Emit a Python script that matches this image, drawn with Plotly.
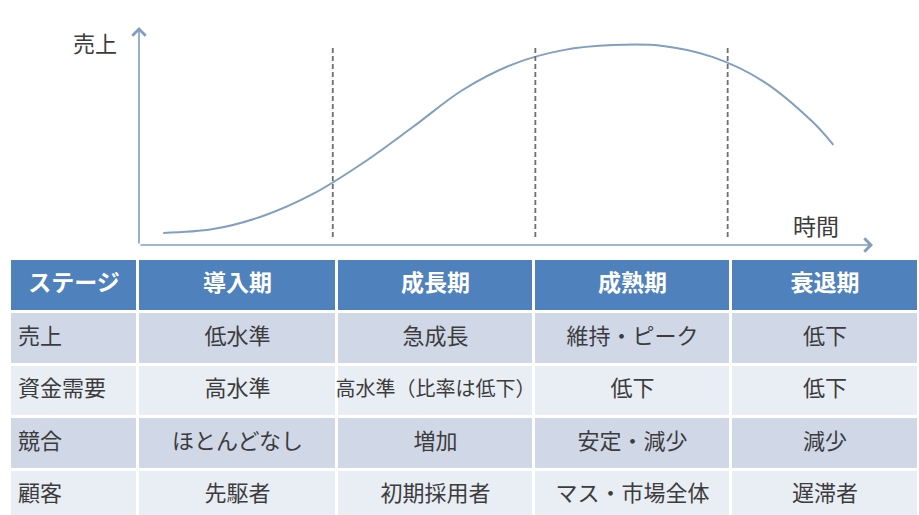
import plotly.graph_objects as go

# ---- product life cycle curve (time vs. sales, both on a 0-100 scale) ----
time_pts = [3.3, 10.1, 16.9, 23.7, 30.5, 37.3, 44.1, 51.0, 57.8, 64.6, 71.4, 78.2, 85.0, 91.8, 94.6]
sales_pts = [5.5, 7.3, 13.3, 23.4, 37.6, 54.1, 71.1, 83.0, 89.4, 91.7, 91.3, 86.2, 75.2, 56.4, 45.9]

# stage boundaries on the time axis and vertical extent of the dashed separators
stage_bounds = [26.4, 54.0, 80.2]
bound_low, bound_high = 3.7, 90.8

# ---- summary table ----
header = ["ステージ", "導入期", "成長期", "成熟期", "衰退期"]
row_labels = ["売上", "資金需要", "競合", "顧客"]
intro = ["低水準", "高水準", "ほとんどなし", "先駆者"]
growth = ["急成長", "高水準（比率は低下）", "増加", "初期採用者"]
maturity = ["維持・ピーク", "低下", "安定・減少", "マス・市場全体"]
decline = ["低下", "低下", "減少", "遅滞者"]

W, H = 919, 515
FONT = "Noto Sans CJK JP"
AXIS_COLOR = "#7f9ec0"
CURVE_COLOR = "#819fc0"
TEXT_COLOR = "#3c3c3c"
HEAD_FILL = "#4f81bd"
ROW_DARK = "#d0d8e8"
ROW_LIGHT = "#e9edf4"
HEAD_SIZE, BODY_SIZE, LONG_SIZE = 23, 22, 20

# table geometry (pixels)
col_widths = [128, 199, 197, 197, 188]
head_h, row_h = 53, 52.5
TABLE_LEFT, TABLE_TOP = 10, 259

fig = go.Figure()

# ---------------- chart ----------------
fig.add_trace(go.Scatter(
    x=time_pts, y=sales_pts, mode="lines",
    line=dict(color=CURVE_COLOR, width=2, shape="spline", smoothing=1.0),
    hoverinfo="skip", showlegend=False,
))

for b in stage_bounds:
    fig.add_shape(type="line", xref="x", yref="y",
                  x0=b, x1=b, y0=bound_low, y1=bound_high,
                  line=dict(color="#6e6e6e", width=1.8, dash="5px,3px"))

# axes drawn as arrows from the origin
fig.add_annotation(x=100, y=0, ax=0, ay=0, xref="x", yref="y", axref="x", ayref="y",
                   text="", showarrow=True, arrowhead=4, arrowsize=1.6,
                   arrowwidth=1.6, arrowcolor=AXIS_COLOR, standoff=0)
fig.add_annotation(x=0, y=100, ax=0, ay=0, xref="x", yref="y", axref="x", ayref="y",
                   text="", showarrow=True, arrowhead=4, arrowsize=1.6,
                   arrowwidth=1.6, arrowcolor=AXIS_COLOR, standoff=0)

fig.add_annotation(x=119 / W, y=(H - 42) / H, xref="paper", yref="paper", text="売上",
                   showarrow=False, xanchor="right", yanchor="middle",
                   font=dict(family=FONT, size=22, color=TEXT_COLOR))
fig.add_annotation(x=92.2, y=9.3, xref="x", yref="y", text="時間", showarrow=False,
                   xanchor="center", yanchor="middle",
                   font=dict(family=FONT, size=23, color=TEXT_COLOR))

# ---------------- table ----------------
n_rows = len(row_labels)
x_edges = [0]
for w in col_widths:
    x_edges.append(x_edges[-1] + w)
y_edges = [0, head_h] + [head_h + row_h * (i + 1) for i in range(n_rows)]
col_centers = [(x_edges[i] + x_edges[i + 1]) / 2 for i in range(len(col_widths))]
row_centers = [(y_edges[i] + y_edges[i + 1]) / 2 for i in range(n_rows + 1)]

# fill classes: 0 = header, 1 = darker band, 2 = lighter band
z = [[0] * len(col_widths)] + [[1 + (i % 2)] * len(col_widths) for i in range(n_rows)]

fig.add_trace(go.Heatmap(
    x=x_edges, y=y_edges, z=z, xaxis="x2", yaxis="y2",
    zmin=0, zmax=2, showscale=False, hoverinfo="skip",
    colorscale=[[0, HEAD_FILL], [0.5, ROW_DARK], [1, ROW_LIGHT]],
    xgap=3, ygap=3,
))

# header labels
fig.add_trace(go.Scatter(
    x=col_centers, y=[row_centers[0]] * len(header), xaxis="x2", yaxis="y2",
    mode="text", text=[f"<b>{h}</b>" for h in header], textposition="middle center",
    textfont=dict(family=FONT, size=HEAD_SIZE, color="white"),
    hoverinfo="skip", showlegend=False,
))

# row labels (left aligned)
fig.add_trace(go.Scatter(
    x=[8] * n_rows, y=row_centers[1:], xaxis="x2", yaxis="y2",
    mode="text", text=row_labels, textposition="middle right",
    textfont=dict(family=FONT, size=BODY_SIZE, color=TEXT_COLOR),
    hoverinfo="skip", showlegend=False,
))

# stage cells; long entries get a slightly smaller size so they fit the column
for ci, col in enumerate([intro, growth, maturity, decline], start=1):
    sizes = [LONG_SIZE if len(t) > 8 else BODY_SIZE for t in col]
    fig.add_trace(go.Scatter(
        x=[col_centers[ci]] * n_rows, y=row_centers[1:], xaxis="x2", yaxis="y2",
        mode="text", text=col, textposition="middle center",
        textfont=dict(family=FONT, size=sizes, color=TEXT_COLOR),
        hoverinfo="skip", showlegend=False,
    ))

table_w = x_edges[-1]
table_h = H - TABLE_TOP

fig.update_layout(
    width=W, height=H,
    margin=dict(l=0, r=0, t=0, b=0),
    paper_bgcolor="white", plot_bgcolor="white",
    xaxis=dict(domain=[139 / W, 873 / W], range=[0, 100], visible=False, fixedrange=True),
    yaxis=dict(domain=[(H - 245) / H, (H - 27) / H], range=[0, 100], visible=False, fixedrange=True),
    xaxis2=dict(domain=[TABLE_LEFT / W, (TABLE_LEFT + table_w) / W], range=[0, table_w],
                visible=False, fixedrange=True, anchor="y2"),
    yaxis2=dict(domain=[0, table_h / H], range=[table_h, 0],
                visible=False, fixedrange=True, anchor="x2"),
    font=dict(family=FONT),
    showlegend=False,
)

fig.write_html("out.html")
